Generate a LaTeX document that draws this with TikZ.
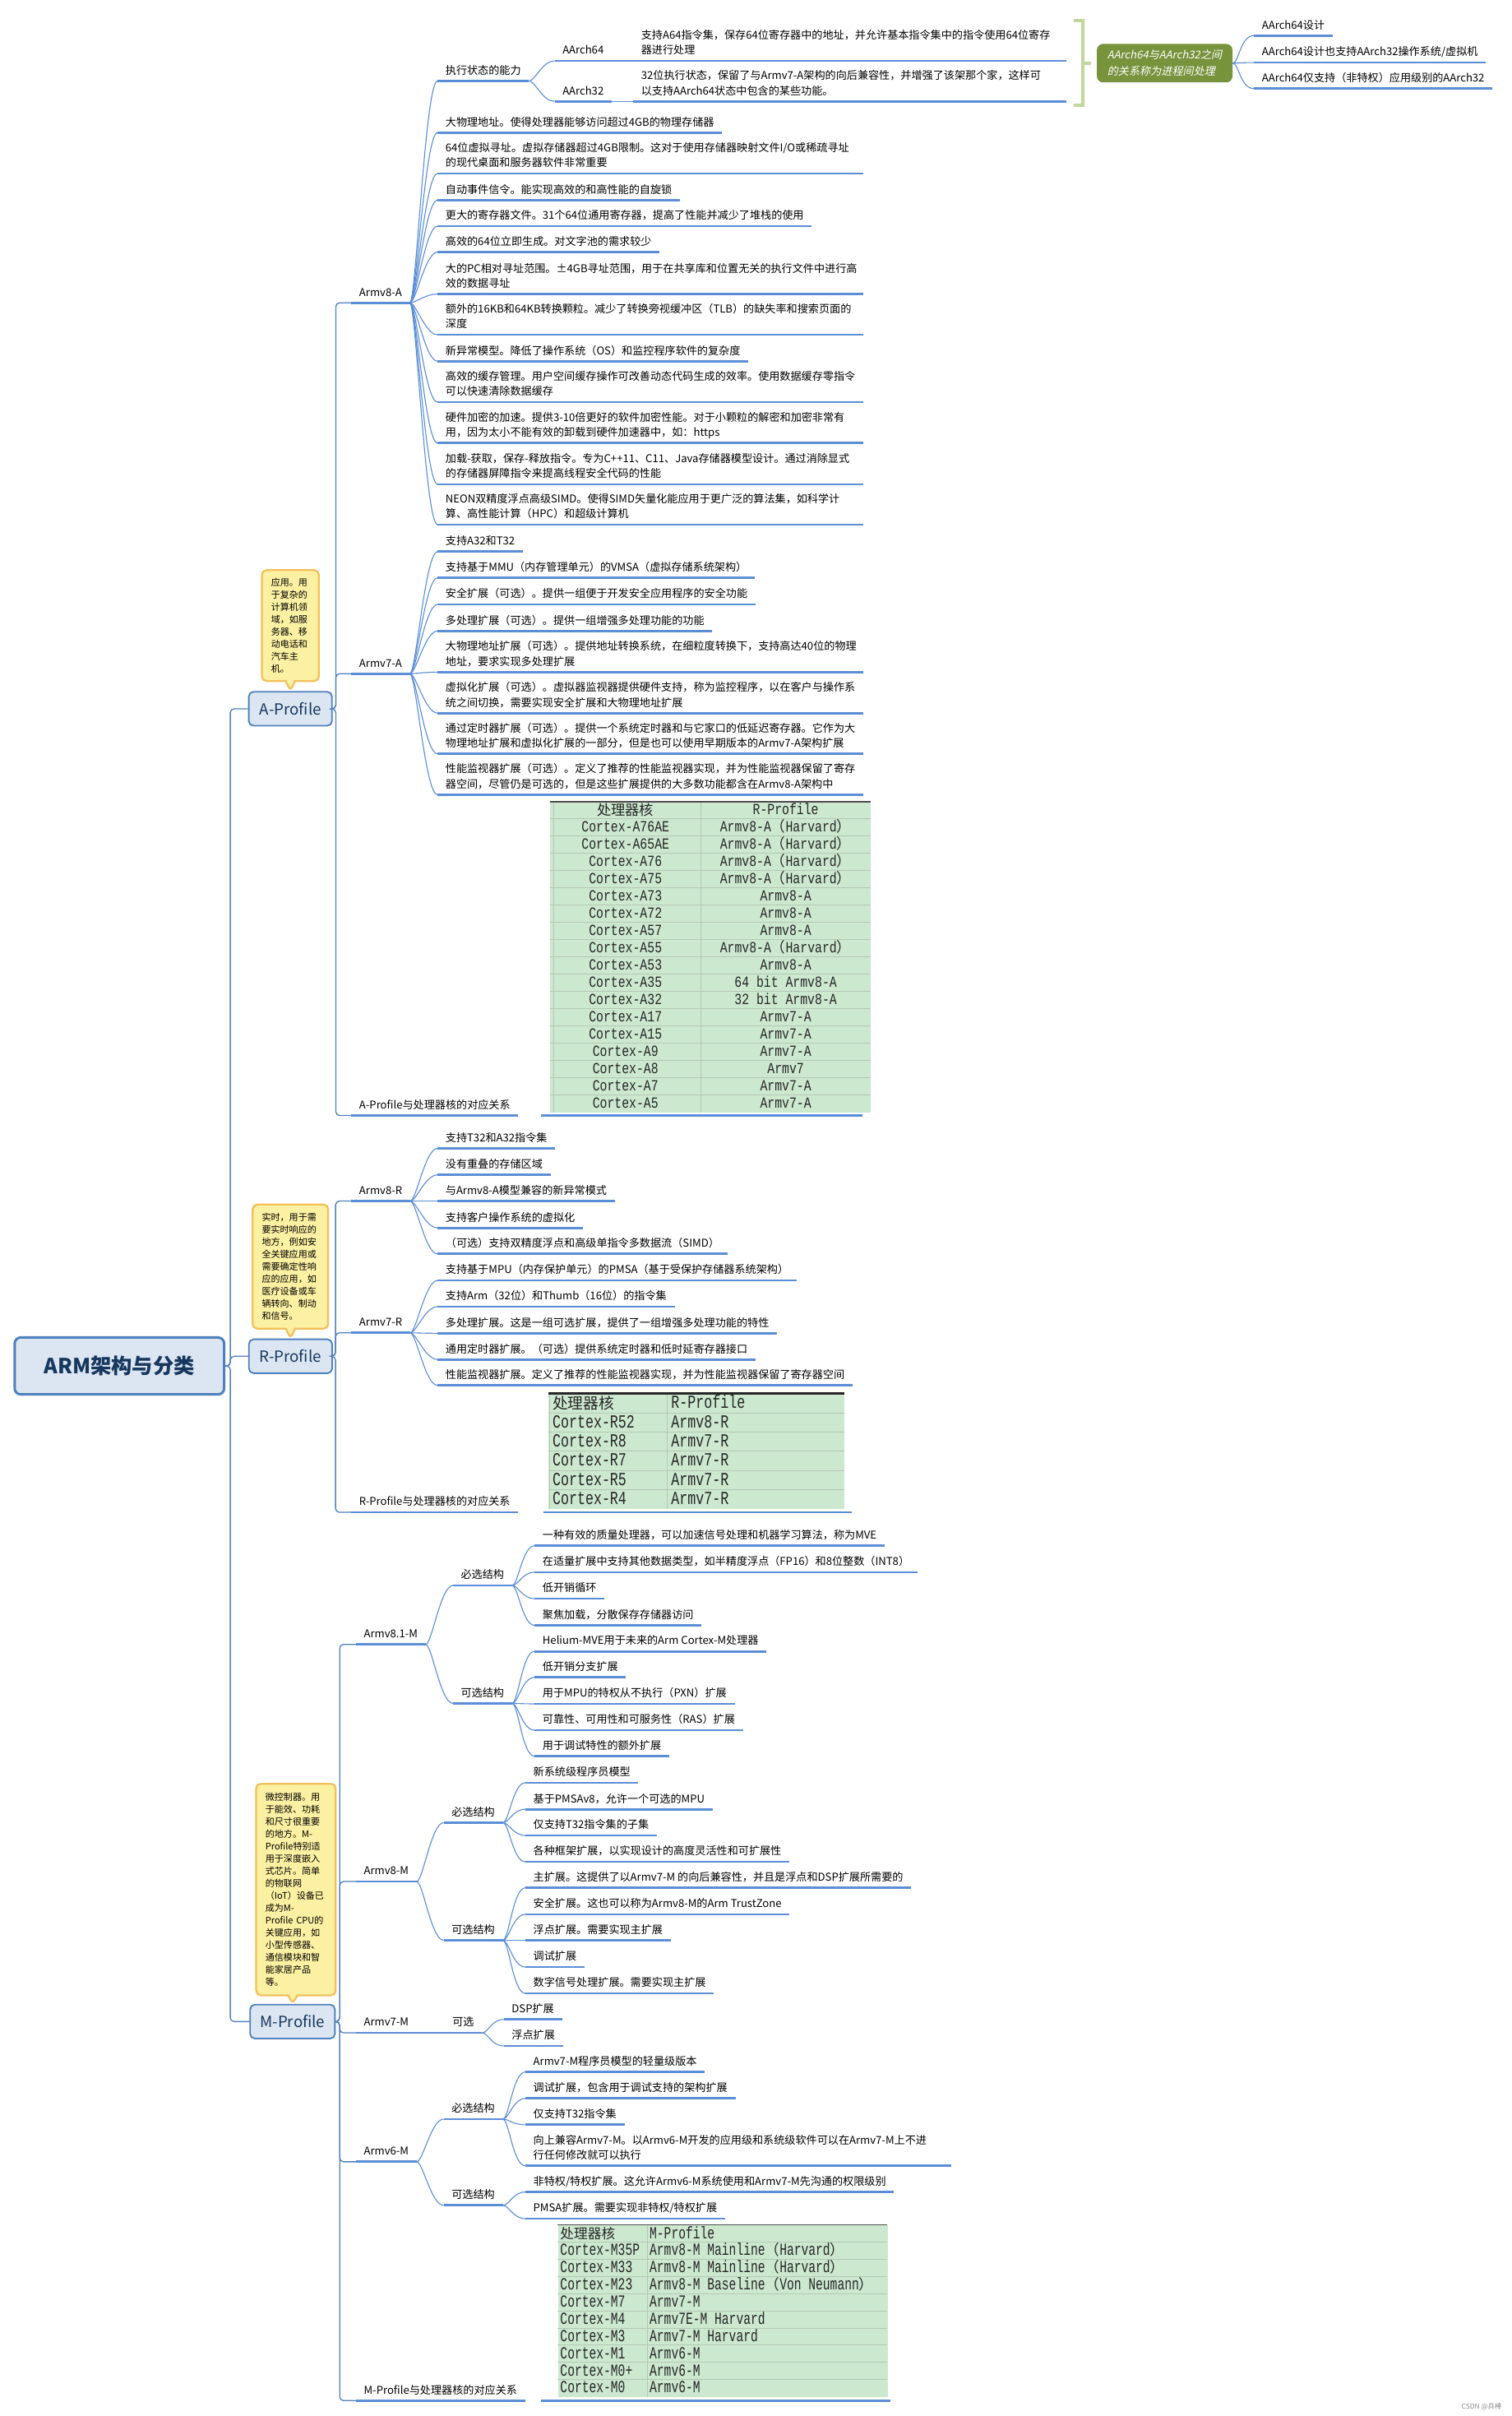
\documentclass[tikz,border=0pt]{standalone}
\usepackage{fontspec}
\setmainfont{Noto Sans CJK SC}
\newfontfamily\cjkfam{Noto Sans CJK SC}
\newfontfamily\slfam[FakeSlant=0.2]{Noto Sans CJK SC}
\newfontfamily\monoA[FakeStretch=0.79]{Liberation Mono}
\newfontfamily\monoR[FakeStretch=0.74]{Liberation Mono}
\newfontfamily\monoM[FakeStretch=0.71]{Liberation Mono}
\usetikzlibrary{shapes.callouts}
\definecolor{ulc}{HTML}{5B8ED6}
\definecolor{conc}{HTML}{5B8ED6}
\definecolor{trk}{HTML}{4F81BD}
\definecolor{pfill}{HTML}{DCE6F2}
\definecolor{pdraw}{HTML}{4F81BD}
\definecolor{ptext}{HTML}{17375E}
\definecolor{nfill}{HTML}{FCF0A2}
\definecolor{ndraw}{HTML}{F2C05A}
\definecolor{tgreen}{HTML}{CCE8CF}
\definecolor{tgrid}{HTML}{B5C8B6}
\definecolor{ttext}{HTML}{262626}
\definecolor{gbox}{HTML}{77933C}
\definecolor{gbr}{HTML}{C3D69B}
\newcommand\fs{\fontsize{7}{9.8}\selectfont}
\newcommand\lf[5][]{\node[leaf,#1] (#2) at (#3,#4) {\strut#5\strut};\draw[ul] (#2.south west) -- (#2.south east);}
\newcommand\cv[2]{\draw[con] (#1.south east) .. controls +(4,0) and +(-8,0) .. (#2.south west);}
\newcommand\tk[3]{\draw[trunk] (#1.east) -- (#1.east -| #2) |- (#3.south west);}
\newcommand\fwl[1]{{\fontsize{#1}{#1}\cjkfam （}}
\newcommand\fwr[1]{{\fontsize{#1}{#1}\cjkfam ）}}
\newcommand\hvA{\fwl{9.4}Harvard\fwr{9.4}}
\newcommand\hvM{\fwl{9.4}Harvard\fwr{9.4}}
\newcommand\vnM{\fwl{9.4}Von Neumann\fwr{9.4}}
\begin{document}
\begin{tikzpicture}[x=1pt,y=-1pt,
  leaf/.style={anchor=south west,inner xsep=5pt,inner ysep=1.2pt,font=\fs,align=left},
  ul/.style={draw=ulc,line width=1.5pt},
  con/.style={draw=conc,line width=0.6pt},
  trunk/.style={draw=trk,line width=0.7pt,rounded corners=2.5pt},
  pbox/.style={draw=pdraw,fill=pfill,line width=1pt,rounded corners=3pt,minimum width=54pt,minimum height=22pt,inner sep=0pt,font=\fontsize{10}{12}\selectfont,text=ptext},
  rootbox/.style={draw=pdraw,fill=pfill,line width=1.6pt,rounded corners=4pt,minimum width=136pt,minimum height=37pt,inner sep=0pt,font=\fontsize{13.5}{15}\selectfont\bfseries,text=ptext},
  note/.style={rectangle callout,draw=ndraw,fill=nfill,line width=1.2pt,rounded corners=3pt,inner xsep=6pt,inner ysep=3pt,font=\fontsize{5.9}{8}\selectfont,align=left,callout pointer width=6pt},
  tbl/.style={fill=tgreen,inner sep=0pt,draw=none},
  tgl/.style={draw=tgrid,line width=0.5pt},
  cellA/.style={font=\fontsize{10}{11}\monoA,anchor=base,inner sep=0pt,text=ttext},
  cellR/.style={font=\fontsize{12}{13}\monoR,anchor=base west,inner sep=0pt,text=ttext},
  cellM/.style={font=\fontsize{11}{12}\monoM,anchor=base west,inner sep=0pt,text=ttext},
  gboxs/.style={fill=gbox,rounded corners=4pt,text=white,font=\slfam\fontsize{7}{10.5}\selectfont,align=left,minimum width=88pt,minimum height=25pt,inner sep=2pt}
]
\useasboundingbox (0,0) rectangle (981,1568);
\fill[white] (0,0) rectangle (981,1568);

% ---------- root and profiles ----------
\node[rootbox] (root) at (77.5,886.5) {ARM架构与分类};
\node[pbox] (Ap) at (188.5,460) {A-Profile};
\node[pbox] (Rp) at (188.6,880.2) {R-Profile};
\node[pbox,minimum width=55pt] (Mp) at (189.9,1312) {M-Profile};
\coordinate (tR) at (149.5,0);
\draw[trunk] (root.east) -- (root.east -| tR) |- (Ap.west);
\draw[trunk] (root.east) -- (root.east -| tR) |- (Rp.west);
\draw[trunk] (root.east) -- (root.east -| tR) |- (Mp.west);

% ---------- notes ----------
\node[note,minimum width=37pt,minimum height=72pt,text width=25pt,callout absolute pointer={(Ap.north)}] (nA) at (188.5,406) {应用。用\\于复杂的\\计算机领\\域，如服\\务器、移\\动电话和\\汽车主\\机。};
\node[note,minimum width=49pt,minimum height=80.6pt,text width=37pt,callout absolute pointer={(Rp.north)}] (nR) at (188.5,822) {实时，用于需\\要实时响应的\\地方，例如安\\全关键应用或\\需要确定性响\\应的应用，如\\医疗设备或车\\辆转向、制动\\和信号。};
\node[note,minimum width=51.6pt,minimum height=137.3pt,text width=39.6pt,callout absolute pointer={(Mp.north)}] (nM) at (192.1,1226.3) {微控制器。用\\于能效、功耗\\和尺寸很重要\\的地方。M-\\Profile特别适\\用于深度嵌入\\式芯片。简单\\的物联网\\（IoT）设备已\\成为M-\\Profile~CPU的\\关键应用，如\\小型传感器、\\通信模块和智\\能家居产品\\等。};

% ---------- A-Profile ----------
\lf{a8a}{228}{196.5}{Armv8-A}
\lf{a7a}{228}{437.2}{Armv7-A}
\lf{aMap}{228}{724}{A-Profile与处理器核的对应关系}
\coordinate (tA) at (218,0);
\tk{Ap}{tA}{a8a}\tk{Ap}{tA}{a7a}\tk{Ap}{tA}{aMap}

\lf{a1}{284}{52.5}{执行状态的能力}
\lf{ax64}{360}{39.5}{AArch64}
\lf{ax32}{360}{65.8}{AArch32}
\lf[text width=271pt]{ax64d}{411}{39.5}{支持A64指令集，保存64位寄存器中的地址，并允许基本指令集中的指令使用64位寄存\\器进行处理}
\lf[text width=271pt]{ax32d}{411}{65.8}{32位执行状态，保留了与Armv7-A架构的向后兼容性，并增强了该架那个家，这样可\\以支持AArch64状态中包含的某些功能。}
\lf{a2}{284}{86}{大物理地址。使得处理器能够访问超过4GB的物理存储器}
\lf[text width=266pt]{a3}{284}{112.6}{64位虚拟寻址。虚拟存储器超过4GB限制。这对于使用存储器映射文件I/O或稀疏寻址\\的现代桌面和服务器软件非常重要}
\lf{a4}{284}{129.8}{自动事件信令。能实现高效的和高性能的自旋锁}
\lf{a5}{284}{146.8}{更大的寄存器文件。31个64位通用寄存器，提高了性能并减少了堆栈的使用}
\lf{a6}{284}{163.6}{高效的64位立即生成。对文字池的需求较少}
\lf[text width=266pt]{a7}{284}{190.8}{大的PC相对寻址范围。±4GB寻址范围，用于在共享库和位置无关的执行文件中进行高\\效的数据寻址}
\lf[text width=266pt]{a8}{284}{217.2}{额外的16KB和64KB转换颗粒。减少了转换旁视缓冲区（TLB）的缺失率和搜索页面的\\深度}
\lf{a9}{284}{234.4}{新异常模型。降低了操作系统（OS）和监控程序软件的复杂度}
\lf[text width=266pt]{a10}{284}{261}{高效的缓存管理。用户空间缓存操作可改善动态代码生成的效率。使用数据缓存零指令\\可以快速清除数据缓存}
\lf[text width=266pt]{a11}{284}{287.6}{硬件加密的加速。提供3-10倍更好的软件加密性能。对于小颗粒的解密和加密非常有\\用，因为太小不能有效的卸载到硬件加速器中，如：https}
\lf[text width=266pt]{a12}{284}{314.3}{加载-获取，保存-释放指令。专为C++11、C11、Java存储器模型设计。通过消除显式\\的存储器屏障指令来提高线程安全代码的性能}
\lf[text width=266pt]{a13}{284}{340.5}{NEON双精度浮点高级SIMD。使得SIMD矢量化能应用于更广泛的算法集，如科学计\\算、高性能计算（HPC）和超级计算机}
\foreach \c in {a1,a2,a3,a4,a5,a6,a7,a8,a9,a10,a11,a12,a13}{\cv{a8a}{\c}}
\cv{a1}{ax64}\cv{a1}{ax32}\cv{ax64}{ax64d}\cv{ax32}{ax32d}

% summary bracket and green box
\draw[draw=gbr,line width=2.2pt] (697,13.5) -- (703,13.5) -- (703,68.5) -- (697,68.5);
\draw[draw=gbr,line width=2.2pt] (703,41) -- (708,41);
\node[gboxs] (gb) at (756,41) {AArch64与AArch32之间\\的关系称为进程间处理};
\lf{g1}{814}{23.1}{AArch64设计}
\lf{g2}{814}{40.6}{AArch64设计也支持AArch32操作系统/虚拟机}
\lf{g3}{814}{57.5}{AArch64仅支持（非特权）应用级别的AArch32}
\foreach \c in {g1,g2,g3}{\draw[con] (gb.east) .. controls +(4,0) and +(-9,0) .. (\c.south west);}

\lf{b1}{284}{358}{支持A32和T32}
\lf{b2}{284}{375}{支持基于MMU（内存管理单元）的VMSA（虚拟存储系统架构）}
\lf{b3}{284}{392.3}{安全扩展（可选）。提供一组便于开发安全应用程序的安全功能}
\lf{b4}{284}{409.5}{多处理扩展（可选）。提供一组增强多处理功能的功能}
\lf[text width=266pt]{b5}{284}{436.2}{大物理地址扩展（可选）。提供地址转换系统，在细粒度转换下，支持高达40位的物理\\地址，要求实现多处理扩展}
\lf[text width=266pt]{b6}{284}{462.8}{虚拟化扩展（可选）。虚拟器监视器提供硬件支持，称为监控程序，以在客户与操作系\\统之间切换，需要实现安全扩展和大物理地址扩展}
\lf[text width=266pt]{b7}{284}{489.3}{通过定时器扩展（可选）。提供一个系统定时器和与它家口的低延迟寄存器。它作为大\\物理地址扩展和虚拟化扩展的一部分，但是也可以使用早期版本的Armv7-A架构扩展}
\lf[text width=266pt]{b8}{284}{515.8}{性能监视器扩展（可选）。定义了推荐的性能监视器实现，并为性能监视器保留了寄存\\器空间，尽管仍是可选的，但是这些扩展提供的大多数功能都含在Armv8-A架构中}
\foreach \c in {b1,b2,b3,b4,b5,b6,b7,b8}{\cv{a7a}{\c}}

% table A
\node[tbl,minimum width=208pt,minimum height=201.6pt,anchor=north west] (tAbox) at (357,520.3) {};
\foreach \k in {1,...,17}{\draw[tgl] (357,{520.3+\k*11.2}) -- (565,{520.3+\k*11.2});}
\draw[tgl] (455,520.3) -- (455,721.9);
\draw[tgl] (359.5,520.3) -- (359.5,721.9);
\draw[draw=black!70,line width=0.8pt] (357,520.3) -- (565,520.3);
\node[font=\fontsize{9.2}{10}\cjkfam,anchor=base,inner sep=0pt,text=ttext] (tA-0-1) at (406,529.4) {处理器核};
\node[cellA] (tA-0-2) at (510,528.8) {R-Profile};
\foreach \a/\b [count=\i] in {Cortex-A76AE/Armv8-A\hvA,Cortex-A65AE/Armv8-A\hvA,Cortex-A76/Armv8-A\hvA,Cortex-A75/Armv8-A\hvA,Cortex-A73/Armv8-A,Cortex-A72/Armv8-A,Cortex-A57/Armv8-A,Cortex-A55/Armv8-A\hvA,Cortex-A53/Armv8-A,Cortex-A35/64 bit Armv8-A,Cortex-A32/32 bit Armv8-A,Cortex-A17/Armv7-A,Cortex-A15/Armv7-A,Cortex-A9/Armv7-A,Cortex-A8/Armv7,Cortex-A7/Armv7-A,Cortex-A5/Armv7-A}{
  \node[cellA] (tA-\i-1) at (406,{520.3+(\i+0.5)*11.2+2.9}) {\a};
  \node[cellA] (tA-\i-2) at (510,{520.3+(\i+0.5)*11.2+2.9}) {\b};
}
\coordinate (tAu1) at (351,724); \coordinate (tAu2) at (560,724);
\draw[ul] (tAu1) -- (tAu2);

% ---------- R-Profile ----------
\lf{r8a}{228}{779.5}{Armv8-R}
\lf{r7a}{228}{865}{Armv7-R}
\lf{rMap}{228}{981.5}{R-Profile与处理器核的对应关系}
\coordinate (tRr) at (217.8,0);
\tk{Rp}{tRr}{r8a}\tk{Rp}{tRr}{r7a}\tk{Rp}{tRr}{rMap}
\lf{r1}{284}{745.3}{支持T32和A32指令集}
\lf{r2}{284}{762.5}{没有重叠的存储区域}
\lf{r3}{284}{779.5}{与Armv8-A模型兼容的新异常模式}
\lf{r4}{284}{796.9}{支持客户操作系统的虚拟化}
\lf{r5}{284}{813.8}{（可选）支持双精度浮点和高级单指令多数据流（SIMD）}
\foreach \c in {r1,r2,r3,r4,r5}{\cv{r8a}{\c}}
\lf{s1}{284}{831}{支持基于MPU（内存保护单元）的PMSA（基于受保护存储器系统架构）}
\lf{s2}{284}{848}{支持Arm（32位）和Thumb（16位）的指令集}
\lf{s3}{284}{865.3}{多处理扩展。这是一组可选扩展，提供了一组增强多处理功能的特性}
\lf{s4}{284}{882.3}{通用定时器扩展。（可选）提供系统定时器和低时延寄存器接口}
\lf{s5}{284}{899.1}{性能监视器扩展。定义了推荐的性能监视器实现，并为性能监视器保留了寄存器空间}
\foreach \c in {s1,s2,s3,s4,s5}{\cv{r7a}{\c}}

% table R
\node[tbl,minimum width=192pt,minimum height=74.7pt,anchor=north west] (tRbox) at (356,904.5) {};
\foreach \k in {1,...,5}{\draw[tgl] (356,{904.5+\k*12.45}) -- (548,{904.5+\k*12.45});}
\draw[tgl] (433,904.5) -- (433,979.2);
\draw[tgl] (356.5,904.5) -- (356.5,979.2);
\draw[draw=black!85,line width=1.6pt] (356,904.5) -- (548,904.5);
\node[font=\fontsize{10}{11}\cjkfam,anchor=base west,inner sep=0pt,text=ttext] (tR-0-1) at (358.5,914.5) {处理器核};
\node[cellR] (tR-0-2) at (435.5,914.2) {R-Profile};
\foreach \a/\b [count=\i] in {Cortex-R52/Armv8-R,Cortex-R8/Armv7-R,Cortex-R7/Armv7-R,Cortex-R5/Armv7-R,Cortex-R4/Armv7-R}{
  \node[cellR] (tR-\i-1) at (358.5,{904.5+(\i+0.5)*12.45+3.4}) {\a};
  \node[cellR] (tR-\i-2) at (435.5,{904.5+(\i+0.5)*12.45+3.4}) {\b};
}
\coordinate (tRu1) at (352.6,981.5); \coordinate (tRu2) at (553,981.5);
\draw[ul] (tRu1) -- (tRu2);

% ---------- M-Profile ----------
\lf{m81}{231}{1067.2}{Armv8.1-M}
\lf{m8}{231}{1221.1}{Armv8-M}
\lf{m7}{231}{1319.3}{Armv7-M}
\lf{m6}{231}{1403}{Armv6-M}
\lf{mMap}{231}{1558}{M-Profile与处理器核的对应关系}
\coordinate (tM) at (220.5,0);
\tk{Mp}{tM}{m81}\tk{Mp}{tM}{m8}\tk{Mp}{tM}{m7}\tk{Mp}{tM}{m6}\tk{Mp}{tM}{mMap}

\lf{m81r}{294}{1029}{必选结构}
\lf{m81o}{294}{1105.5}{可选结构}
\cv{m81}{m81r}\cv{m81}{m81o}
\lf{c1}{347}{1003.2}{一种有效的质量处理器，可以加速信号处理和机器学习算法，称为MVE}
\lf{c2}{347}{1020.4}{在适量扩展中支持其他数据类型，如半精度浮点（FP16）和8位整数（INT8）}
\lf{c3}{347}{1037.5}{低开销循环}
\lf{c4}{347}{1054.8}{聚焦加载，分散保存存储器访问}
\foreach \c in {c1,c2,c3,c4}{\cv{m81r}{\c}}
\lf{d1}{347}{1071.7}{Helium-MVE用于未来的Arm Cortex-M处理器}
\lf{d2}{347}{1088.6}{低开销分支扩展}
\lf{d3}{347}{1105.8}{用于MPU的特权从不执行（PXN）扩展}
\lf{d4}{347}{1122.9}{可靠性、可用性和可服务性（RAS）扩展}
\lf{d5}{347}{1139.8}{用于调试特性的额外扩展}
\foreach \c in {d1,d2,d3,d4,d5}{\cv{m81o}{\c}}

\lf{m8r}{288}{1182.9}{必选结构}
\lf{m8o}{288}{1259.3}{可选结构}
\cv{m8}{m8r}\cv{m8}{m8o}
\lf{e1}{341}{1157}{新系统级程序员模型}
\lf{e2}{341}{1174.2}{基于PMSAv8，允许一个可选的MPU}
\lf{e3}{341}{1191.2}{仅支持T32指令集的子集}
\lf{e4}{341}{1208.3}{各种框架扩展，以实现设计的高度灵活性和可扩展性}
\foreach \c in {e1,e2,e3,e4}{\cv{m8r}{\c}}
\lf{f1}{341}{1225.2}{主扩展。这提供了以Armv7-M 的向后兼容性，并且是浮点和DSP扩展所需要的}
\lf{f2}{341}{1242.4}{安全扩展。这也可以称为Armv8-M的Arm TrustZone}
\lf{f3}{341}{1259.3}{浮点扩展。需要实现主扩展}
\lf{f4}{341}{1276.6}{调试扩展}
\lf{f5}{341}{1293.7}{数字信号处理扩展。需要实现主扩展}
\foreach \c in {f1,f2,f3,f4,f5}{\cv{m8o}{\c}}

\lf{m7o}{288.5}{1319.3}{可选}
\cv{m7}{m7o}
\lf{h1}{327}{1310.6}{DSP扩展}
\lf{h2}{327}{1327.8}{浮点扩展}
\cv{m7o}{h1}\cv{m7o}{h2}

\lf{m6r}{288}{1375.3}{必选结构}
\lf{m6o}{288}{1431.3}{可选结构}
\cv{m6}{m6r}\cv{m6}{m6o}
\lf{k1}{341}{1344.7}{Armv7-M程序员模型的轻量级版本}
\lf{k2}{341}{1361.9}{调试扩展，包含用于调试支持的架构扩展}
\lf{k3}{341}{1379}{仅支持T32指令集}
\lf[text width=266pt]{k4}{341}{1405.6}{向上兼容Armv7-M。以Armv6-M开发的应用级和系统级软件可以在Armv7-M上不进\\行任何修改就可以执行}
\foreach \c in {k1,k2,k3,k4}{\cv{m6r}{\c}}
\lf{l1}{341}{1422.6}{非特权/特权扩展。这允许Armv6-M系统使用和Armv7-M先沟通的权限级别}
\lf{l2}{341}{1439.9}{PMSA扩展。需要实现非特权/特权扩展}
\cv{m6o}{l1}\cv{m6o}{l2}

% table M
\node[tbl,minimum width=214pt,minimum height=111.5pt,anchor=north west] (tMbox) at (362,1444) {};
\foreach \k in {1,...,9}{\draw[tgl] (362,{1444+\k*11.15}) -- (576,{1444+\k*11.15});}
\draw[tgl] (420,1444) -- (420,1555.5);
\draw[draw=black!70,line width=0.8pt] (362,1444) -- (576,1444);
\node[font=\fontsize{8.9}{10}\cjkfam,anchor=base west,inner sep=0pt,text=ttext] (tM-0-1) at (363.5,1453) {处理器核};
\node[cellM] (tM-0-2) at (421.5,1452.8) {M-Profile};
\foreach \a/\b [count=\i] in {Cortex-M35P/Armv8-M Mainline\hvM,Cortex-M33/Armv8-M Mainline\hvM,Cortex-M23/Armv8-M Baseline\vnM,Cortex-M7/Armv7-M,Cortex-M4/Armv7E-M Harvard,Cortex-M3/Armv7-M Harvard,Cortex-M1/Armv6-M,Cortex-M0+/Armv6-M,Cortex-M0/Armv6-M}{
  \node[cellM] (tM-\i-1) at (363.5,{1444+(\i+0.5)*11.15+3.1}) {\a};
  \node[cellM] (tM-\i-2) at (421.5,{1444+(\i+0.5)*11.15+3.1}) {\b};
}
\coordinate (tMu1) at (351,1558); \coordinate (tMu2) at (578,1558);
\draw[ul] (tMu1) -- (tMu2);

% watermark
\node[font=\fontsize{4.5}{5}\selectfont,text=black!45,anchor=east,inner sep=0pt] (wm) at (975,1562) {CSDN @兵棒};
\end{tikzpicture}
\end{document}
